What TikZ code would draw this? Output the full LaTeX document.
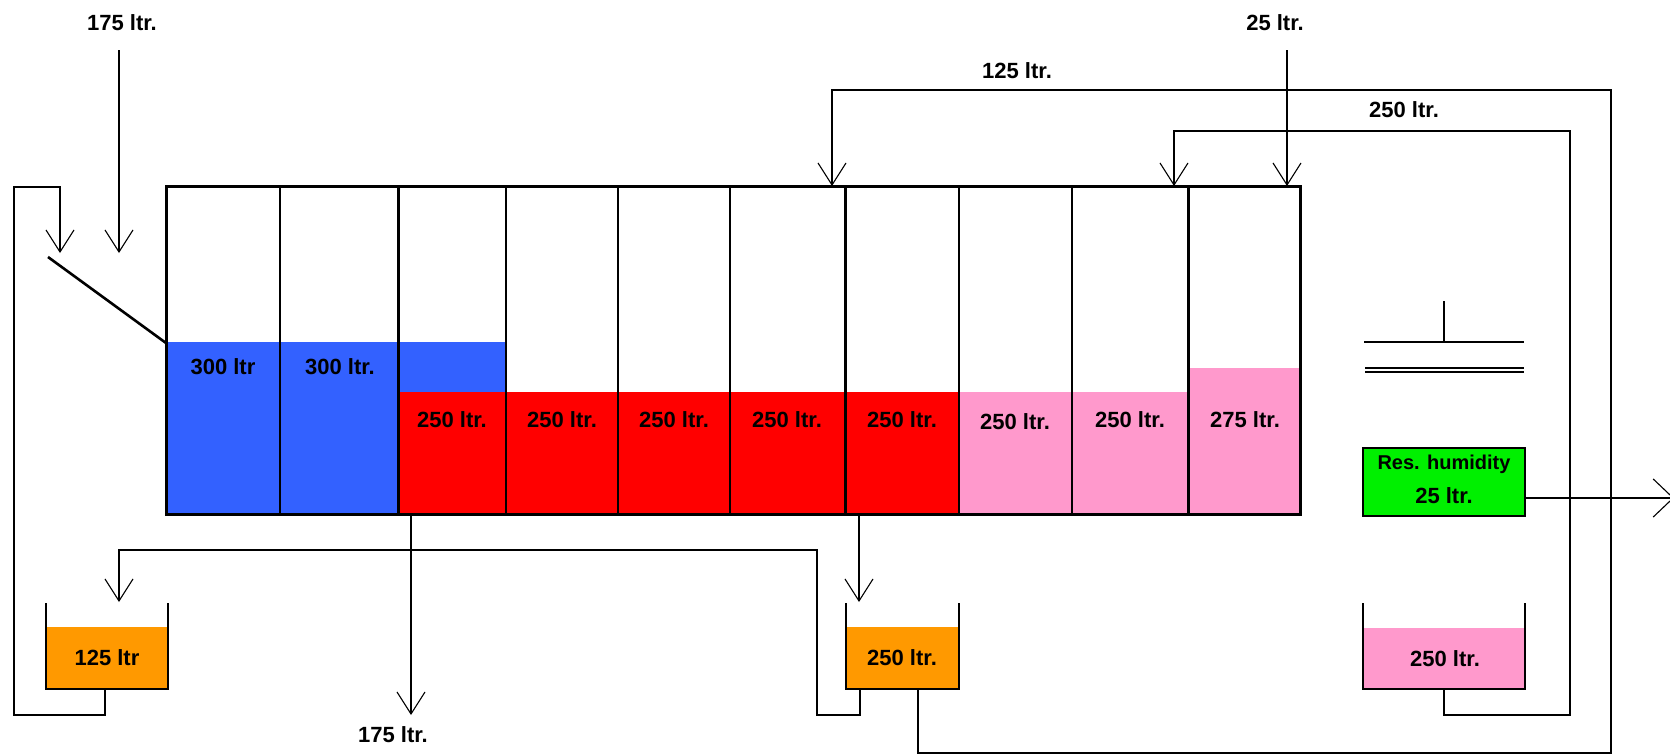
\documentclass[tikz,border=0pt]{standalone}
\usepackage{fontspec}
\setmainfont{Liberation Sans}
\usetikzlibrary{arrows.meta}
\definecolor{wblue}{RGB}{51,97,255}
\definecolor{wred}{RGB}{255,0,0}
\definecolor{wpink}{RGB}{255,153,204}
\definecolor{worange}{RGB}{255,153,0}
\definecolor{wgreen}{RGB}{0,240,0}
\begin{document}
\begin{tikzpicture}[x=1pt,y=-1pt,
  lbl/.style={font=\bfseries\fontsize{22}{26}\selectfont, inner sep=0pt, text=black},
  pipe/.style={line width=1.5pt, line join=miter},
  flow/.style={pipe, -{Straight Barb[length=22pt,width=28pt,line width=1.1pt]}},
  outflow/.style={pipe, -{Straight Barb[length=20pt,width=38pt,line width=1.1pt]}},
  thin/.style={line width=1.5pt},
  heavy/.style={line width=3pt},
  tankwall/.style={line width=1.6pt}]
\useasboundingbox (0,0) rectangle (1670,755);

% ---------- main vessel ----------
\fill[wblue] (166,342) rectangle (398,514);
\fill[wblue] (398,342) rectangle (506,392);
\fill[wred] (398,392) rectangle (959,514);
\fill[wpink] (959,392) rectangle (1188,514);
\fill[wpink] (1188,368) rectangle (1300,514);
\foreach \x in {280,506,618,730,959,1072} \draw[thin] (\x,186) -- (\x,514);
\foreach \x in {398,845,1188} \draw[heavy] (\x,186) -- (\x,514);
\node[draw, heavy, minimum width=1134pt, minimum height=328pt, inner sep=0pt] (tank) at (733,350) {};

\node[lbl] (c1) at (223,367) {300 ltr};
\node[lbl] (c2) at (340,367) {300 ltr.};
\node[lbl] (c3) at (452,420) {250 ltr.};
\node[lbl] (c4) at (562,420) {250 ltr.};
\node[lbl] (c5) at (674,420) {250 ltr.};
\node[lbl] (c6) at (787,420) {250 ltr.};
\node[lbl] (c7) at (902,420) {250 ltr.};
\node[lbl] (c8) at (1015,422) {250 ltr.};
\node[lbl] (c9) at (1130,420) {250 ltr.};
\node[lbl] (c10) at (1245,420) {275 ltr.};

% chute
\coordinate (chuteTop) at (48,257);
\coordinate (chuteEnd) at (166,343);
\draw[line width=2.6pt] (chuteTop) -- (chuteEnd);

% ---------- small tanks ----------
\fill[worange] (46,627) rectangle (168,689);
\draw[tankwall] (46,603) -- (46,689) -- (168,689) -- (168,603);
\node[lbl] (t1) at (107,658) {125 ltr};

\fill[worange] (846,627) rectangle (959,689);
\draw[tankwall] (846,603) -- (846,689) -- (959,689) -- (959,603);
\node[lbl] (t2) at (902,658) {250 ltr.};

\fill[wpink] (1363,628) rectangle (1525,689);
\draw[tankwall] (1363,603) -- (1363,689) -- (1525,689) -- (1525,603);
\node[lbl] (t3) at (1445,659) {250 ltr.};

% ---------- residual humidity ----------
\node[draw, tankwall, fill=wgreen, minimum width=162pt, minimum height=68pt, inner sep=0pt] (res) at (1444,482) {};
\node[lbl, font=\bfseries\fontsize{20}{24}\selectfont] (resA) at (1444,464) {Res. humidity};
\node[lbl] (resB) at (1444,496) {25 ltr.};

% press symbol
\draw[thin] (1444,301) -- (1444,342);
\draw[thin] (1364,342) -- (1524,342);
\draw[thin] (1365,368) -- (1524,368);
\draw[thin] (1365,372) -- (1524,372);

% ---------- coordinates ----------
\coordinate (feedTop) at (119,50);
\coordinate (feedTip) at (119,253);
\coordinate (t1out) at (105,689);
\coordinate (recTip) at (60,253);
\coordinate (c3out) at (411,514);
\coordinate (c3tip) at (411,715);
\coordinate (c7out) at (859,514);
\coordinate (t2in) at (859,602);
\coordinate (t2outA) at (860,689);
\coordinate (t1in) at (119,602);
\coordinate (t2outB) at (918,689);
\coordinate (in125) at (832,186);
\coordinate (t3out) at (1444,689);
\coordinate (in250) at (1174,186);
\coordinate (topIn) at (1287,50);
\coordinate (in25) at (1287,186);
\coordinate (resOut) at (1525,498);
\coordinate (exitTip) at (1674,498);

% ---------- connectors ----------
\node[lbl] (lfeed) at (122,23) {175 ltr.};
\draw[flow] (feedTop) -- (feedTip);

\draw[flow] (t1out) -- (105,715) -- (14,715) -- (14,187) -- (60,187) -- (recTip);

\draw[flow] (c3out) -- (c3tip);
\node[lbl] (lout) at (393,735) {175 ltr.};

\draw[flow] (c7out) -- (t2in);

\draw[flow] (t2outA) -- (860,715) -- (817,715) -- (817,550) -- (119,550) -- (t1in);

\draw[flow] (t2outB) -- (918,753) -- (1611,753) -- (1611,90) -- (832,90) -- (in125);
\node[lbl] (l125) at (1017,71) {125 ltr.};

\draw[flow] (t3out) -- (1444,715) -- (1570,715) -- (1570,131) -- (1174,131) -- (in250);
\node[lbl] (l250) at (1404,110) {250 ltr.};

\node[lbl] (l25) at (1275,23) {25 ltr.};
\draw[flow] (topIn) -- (in25);

\draw[outflow] (resOut) -- (exitTip);
\end{tikzpicture}
\end{document}
